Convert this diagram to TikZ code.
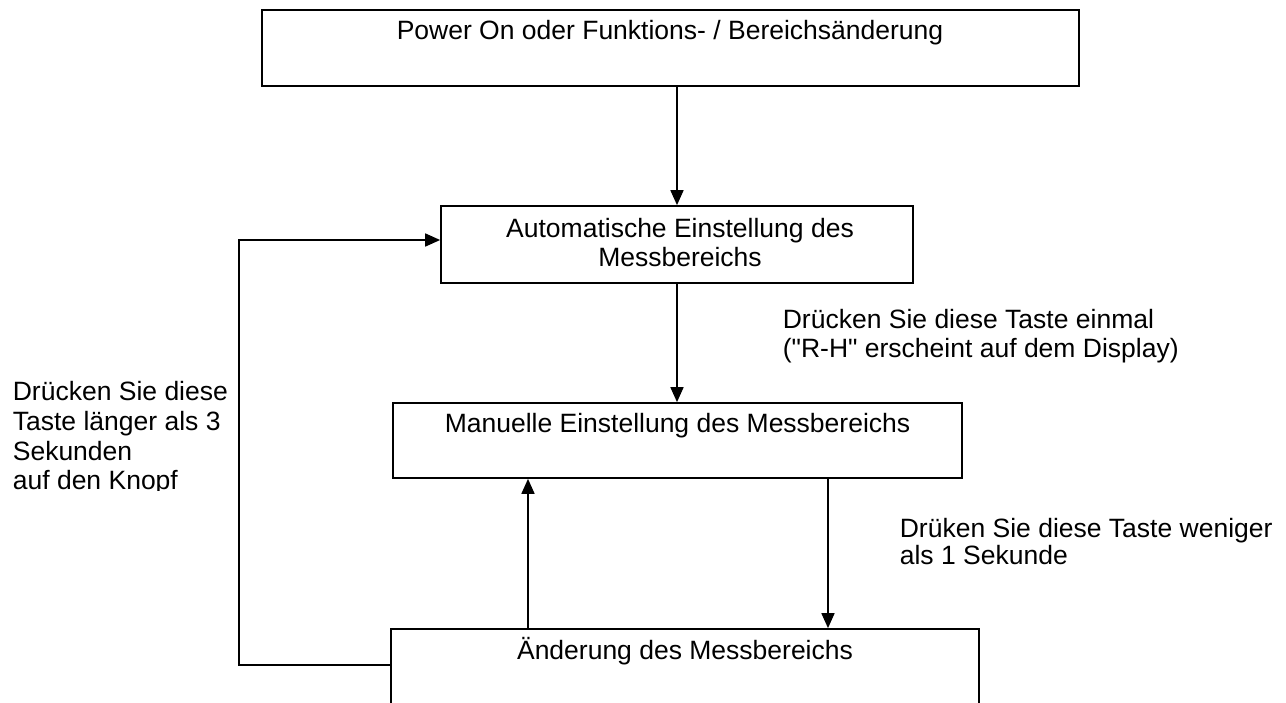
\documentclass[tikz,border=0pt]{standalone}
\usepackage{fontspec}
\setmainfont{Liberation Sans}[Ligatures=TeXOff]
\usetikzlibrary{arrows.meta}
\begin{document}
\begin{tikzpicture}[x=1pt,y=-1pt,
  line width=1.7pt,
  every node/.style={font=\fontsize{26.5pt}{30pt}\selectfont},
  boxnode/.style={draw,rectangle,inner sep=0pt,line width=1.7pt},
  txt/.style={inner sep=0pt,anchor=base},
  ltxt/.style={inner sep=0pt,anchor=base west},
  arr/.style={-{Triangle[length=15pt,width=13pt]},line width=1.7pt}]
\useasboundingbox (0,0) rectangle (1286,702);
\clip (0,0) rectangle (1286,702);
% boxes
\node[boxnode,minimum width=817pt,minimum height=76pt] (top) at (670.5,48) {};
\node[boxnode,minimum width=472pt,minimum height=77pt] (auto) at (677,244.5) {};
\node[boxnode,minimum width=569pt,minimum height=75pt] (manual) at (677.5,440.5) {};
\node[boxnode,minimum width=588pt,minimum height=100pt] (aend) at (685,679) {};
% box texts
\node[txt] (ttop) at (670,39) {Power On oder Funktions- / Bereichsänderung};
\node[txt] (tauto1) at (680,237) {Automatische Einstellung des};
\node[txt] (tauto2) at (680,266) {Messbereichs};
\node[txt] (tman) at (677.5,432) {Manuelle Einstellung des Messbereichs};
\node[txt] (taend) at (685,659) {Änderung des Messbereichs};
% labels
\node[ltxt] (r1a) at (782,328) {Drücken Sie diese Taste einmal};
\node[ltxt] (r1b) at (782,357) {("R-H" erscheint auf dem Display)};
\node[ltxt] (r2a) at (899,537) {Drüken Sie diese Taste weniger};
\node[ltxt] (r2b) at (899,564) {als 1 Sekunde};
\begin{scope}
\clip (0,300) rectangle (236,490);
\node[ltxt] (l1) at (12,400) {Drücken Sie diese};
\node[ltxt] (l2) at (12,430) {Taste länger als 3};
\node[ltxt] (l3) at (12,460) {Sekunden};
\node[ltxt] (l4) at (12,489) {auf den Knopf};
\end{scope}
% connectors
\coordinate (xm) at (828,0);
\coordinate (xu) at (528,0);
\coordinate (lp1) at (239,665);
\coordinate (lp2) at (239,240);
\draw[arr] (auto.north |- top.south) -- (auto.north);
\draw[arr] (auto.south) -- (auto.south |- manual.north);
\draw[arr] (xm |- manual.south) -- (xm |- aend.north);
\draw[arr] (xu |- aend.north) -- (xu |- manual.south);
\draw[arr] (aend.west |- lp1) -- (lp1) -- (lp2) -- (auto.west |- lp2);
\end{tikzpicture}
\end{document}
